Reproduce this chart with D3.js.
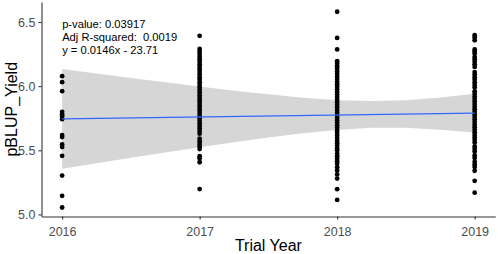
<!DOCTYPE html>
<html>
<head>
<meta charset="utf-8">
<script src="https://cdn.jsdelivr.net/npm/d3@7"></script>
<style>
  body { margin: 0; background: #fff; }
  svg { display: block; font-family: "Liberation Sans", Arial, sans-serif; }
</style>
</head>
<body>
<div id="chart"></div>
<script>
// values
var years = [2016, 2017, 2018, 2019]
var yield2016 = [6.078, 6.031, 5.961, 5.80, 5.782, 5.766, 5.743, 5.619, 5.603,
  5.546, 5.525, 5.457, 5.303, 5.145, 5.054]
var yield2017 = [6.392, 6.29, 6.27, 6.25, 6.23, 6.21, 6.19, 6.17, 6.15, 6.13, 6.11,
  6.09, 6.07, 6.05, 6.03, 6.01, 5.99, 5.97, 5.95, 5.93, 5.91, 5.89, 5.87, 5.85,
  5.83, 5.81, 5.79, 5.77, 5.75, 5.73, 5.71, 5.69, 5.67, 5.65, 5.63, 5.59, 5.57,
  5.55, 5.53, 5.51, 5.454, 5.436, 5.407, 5.198]
var yield2018 = [6.58, 6.376, 6.286, 6.195, 6.175, 6.155, 6.135, 6.115, 6.095,
  6.075, 6.055, 6.035, 6.015, 5.995, 5.975, 5.955, 5.935, 5.915, 5.895, 5.875,
  5.855, 5.835, 5.815, 5.795, 5.775, 5.755, 5.735, 5.715, 5.695, 5.675, 5.655,
  5.635, 5.615, 5.595, 5.575, 5.555, 5.535, 5.515, 5.50, 5.473, 5.454, 5.434,
  5.415, 5.395, 5.368, 5.343, 5.312, 5.280, 5.197, 5.113]
var yield2019 = [6.397, 6.379, 6.358, 6.286, 6.27, 6.255, 6.228, 6.21, 6.19, 6.17,
  6.15, 6.11, 6.09, 6.07, 6.05, 6.03, 6.01, 5.99, 5.96, 5.94, 5.92, 5.90, 5.88,
  5.86, 5.84, 5.82, 5.80, 5.78, 5.76, 5.74, 5.72, 5.70, 5.68, 5.66, 5.64, 5.62,
  5.60, 5.58, 5.56, 5.53, 5.51, 5.49, 5.46, 5.44, 5.41, 5.39, 5.37, 5.34, 5.262, 5.17]

// fitted line and confidence band
var fitYear = [2016, 2019]
var fitValue = [5.745, 5.79]
var bandYear = [2016, 2016.25, 2016.5, 2016.75, 2017, 2017.25, 2017.5, 2017.75,
  2018, 2018.25, 2018.5, 2018.75, 2019]
var bandUpper = [6.133, 6.099, 6.064, 6.030, 5.997, 5.965, 5.936, 5.910, 5.891,
  5.884, 5.890, 5.911, 5.941]
var bandLower = [5.357, 5.399, 5.441, 5.482, 5.523, 5.563, 5.599, 5.632, 5.659,
  5.675, 5.675, 5.661, 5.639]

var yTicks = [5.0, 5.5, 6.0, 6.5]
var statLines = ['p-value: 0.03917', 'Adj R-squared:  0.0019', 'y = 0.0146x - 23.71']

var width = 498
var height = 254
var margin = { top: 2, left: 41.5, bottom: 37.5, right: 2.7 }
var chartWidth = width - margin.left - margin.right
var chartHeight = height - margin.top - margin.bottom

var svg = d3.select('#chart').append('svg')
  .attr('width', width)
  .attr('height', height)

var x = d3.scaleLinear().domain([2015.85, 2019.15]).range([0, chartWidth])
var y = d3.scaleLinear().domain([4.984, 6.656]).range([chartHeight, 0])

var gChart = svg.append('g')
  .attr('transform', 'translate(' + margin.left + ',' + margin.top + ')')

// band
var band = bandYear.map(function (d, i) {
  return { x: d, lo: bandLower[i], hi: bandUpper[i] }
})
gChart.append('path')
  .datum(band)
  .attr('fill', '#d6d6d6')
  .attr('d', d3.area()
    .x(function (d) { return x(d.x) })
    .y0(function (d) { return y(d.lo) })
    .y1(function (d) { return y(d.hi) }))

// points
var points = []
var series = [yield2016, yield2017, yield2018, yield2019]
series.forEach(function (vals, i) {
  vals.forEach(function (v) { points.push({ year: years[i], value: v }) })
})

gChart.selectAll('circle')
    .data(points)
  .enter().append('circle')
    .attr('cx', function (d) { return x(d.year) })
    .attr('cy', function (d) { return y(d.value) })
    .attr('r', 2.4)
    .attr('fill', '#000')

// fit line
gChart.append('path')
  .datum(fitYear.map(function (d, i) { return [d, fitValue[i]] }))
  .attr('fill', 'none')
  .attr('stroke', '#3366ff')
  .attr('stroke-width', 1.1)
  .attr('d', d3.line()
    .x(function (d) { return x(d[0]) })
    .y(function (d) { return y(d[1]) }))

// stats text
gChart.append('g').selectAll('text')
    .data(statLines)
  .enter().append('text')
    .attr('x', x(2016))
    .attr('y', function (d, i) { return 25.5 + i * 13 })
    .attr('font-size', '11.2px')
    .attr('fill', '#000')
    .style('white-space', 'pre')
    .text(function (d) { return d })

// axes
var gXaxis = svg.append('g')
  .attr('transform', 'translate(' + margin.left + ',' + (margin.top + chartHeight) + ')')
  .call(d3.axisBottom(x).tickValues(years).tickFormat(d3.format('d')).tickSize(3).tickSizeOuter(0))

var gYaxis = svg.append('g')
  .attr('transform', 'translate(' + margin.left + ',' + margin.top + ')')
  .call(d3.axisLeft(y).tickValues(yTicks).tickFormat(d3.format('.1f')).tickSize(3).tickSizeOuter(0))

svg.selectAll('.domain').attr('stroke', '#333').attr('stroke-width', 1.1)
svg.selectAll('.tick line').attr('stroke', '#333').attr('stroke-width', 1.1)
svg.selectAll('.tick text')
  .attr('fill', '#4d4d4d')
  .attr('font-size', '12.5px')
  .attr('font-family', '"Liberation Sans", Arial, sans-serif')
gXaxis.selectAll('.tick text').attr('dy', '1.05em')

svg.append('text')
  .attr('x', margin.left + chartWidth / 2)
  .attr('y', 251)
  .attr('text-anchor', 'middle')
  .attr('font-size', '16px')
  .text('Trial Year')

svg.append('text')
  .attr('transform', 'translate(17,' + (margin.top + chartHeight / 2) + ') rotate(-90)')
  .attr('text-anchor', 'middle')
  .attr('font-size', '16px')
  .text('pBLUP_Yield')
</script>
</body>
</html>
